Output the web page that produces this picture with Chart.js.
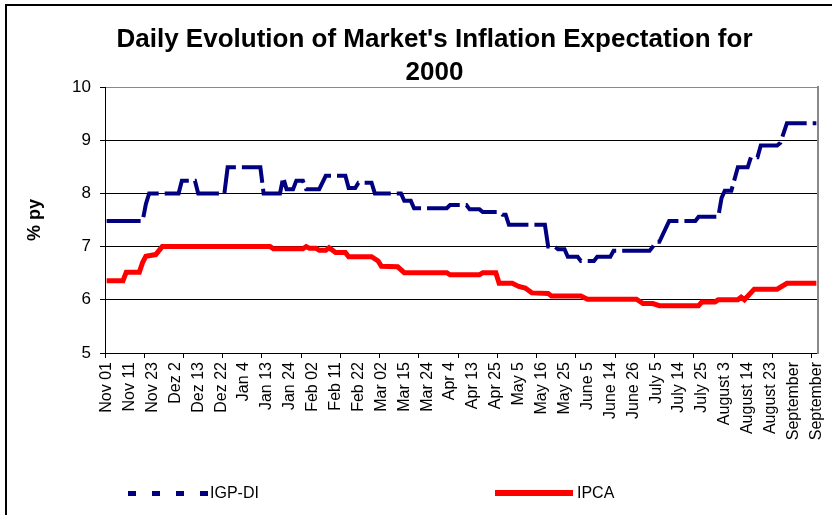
<!DOCTYPE html>
<html>
<head>
<meta charset="utf-8">
<script src="https://cdn.jsdelivr.net/npm/chart.js@4.4.0/dist/chart.umd.min.js"></script>
<style>
body { margin: 0; background: #fff; }
#wrap { position: relative; width: 832px; height: 515px; overflow: hidden; }
#frame { position: absolute; left: 5px; top: 4px; width: 900px; height: 600px; border-left: 2px solid #000; border-top: 2px solid #000; }
.sample { position: absolute; }
.legtxt { position: absolute; font: 16px "Liberation Sans", Arial, sans-serif; color: #000; line-height: 18px; }
</style>
</head>
<body>
<div id="wrap">
  <canvas id="myChart" width="869" height="515"></canvas>
  <div id="frame"></div>
  <div class="sample" style="left:128px; top:491px; width:82px; height:5px; background: repeating-linear-gradient(to right, #000080 0 8px, transparent 8px 24px);"></div>
  <div class="legtxt" style="left:210px; top:484px;">IGP-DI</div>
  <div class="sample" style="left:495px; top:490px; width:78px; height:6px; background:#ff0000;"></div>
  <div class="legtxt" style="left:577px; top:484px;">IPCA</div>
</div>
<script>
var dayLabels = ['Nov 01', 'Nov 11', 'Nov 23', 'Dez 2', 'Dez 13', 'Dez 22', 'Jan 4', 'Jan 13', 'Jan 24',
    'Feb 02', 'Feb 11', 'Feb 22', 'Mar 02', 'Mar 15', 'Mar 24', 'Apr 4', 'Apr 13', 'Apr 25', 'May 5',
    'May 16', 'May 25', 'June 5', 'June 14', 'June 26', 'July 5', 'July 14', 'July 25', 'August 3',
    'August 14', 'August 23', 'September', 'September'];
var labelStep = 7;   // a label every 7 business days
var tickStep = 12;   // tick marks every 12 business days
var lastDay = 217;

// IGP-DI: business day index / expected inflation (% py)
var igpDays = [0, 11, 12, 13, 22, 23, 27, 28, 36, 37, 47, 48, 53, 54, 55, 57, 58, 60, 61, 65,
    67, 73, 74, 76, 77, 81, 82, 90, 91, 93, 94, 104, 105, 110, 111, 114, 115, 120, 121, 122,
    123, 134, 135, 137, 138, 140, 141, 144, 145, 149, 150, 154, 155, 166, 167, 168, 169, 171, 172, 180,
    181, 187, 188, 189, 191, 193, 196, 197, 199, 200, 205, 206, 208, 217];
var igpVals = [7.48, 7.48, 7.8, 8.0, 8.0, 8.24, 8.24, 8.0, 8.0, 8.49, 8.49, 8.0, 8.0, 8.3, 8.08, 8.08, 8.24, 8.24, 8.08, 8.08,
    8.33, 8.33, 8.1, 8.1, 8.2, 8.2, 8.0, 8.0, 7.86, 7.86, 7.72, 7.72, 7.78, 7.78, 7.7, 7.7, 7.65, 7.65, 7.6, 7.6,
    7.41, 7.41, 7.0, 7.0, 6.95, 6.95, 6.81, 6.81, 6.73, 6.73, 6.81, 6.81, 6.92, 6.92, 7.0, 7.09, 7.09, 7.35, 7.48, 7.48,
    7.56, 7.56, 7.91, 8.05, 8.05, 8.49, 8.49, 8.68, 8.68, 8.9, 8.9, 8.95, 9.32, 9.32];

// IPCA
var ipcaDays = [0, 5, 6, 10, 11, 12, 15, 17, 50, 51, 60, 61, 62, 64, 65, 67, 68, 70, 73, 74,
    81, 83, 84, 89, 91, 104, 105, 114, 115, 119, 120, 124, 126, 128, 130, 135, 136, 145, 147, 162,
    164, 167, 169, 181, 182, 186, 187, 193, 194, 195, 198, 205, 208, 217];
var ipcaVals = [6.36, 6.36, 6.52, 6.52, 6.7, 6.82, 6.85, 7.0, 7.0, 6.96, 6.96, 7.0, 6.97, 6.97, 6.93, 6.93, 6.98, 6.89, 6.89, 6.81,
    6.81, 6.73, 6.63, 6.62, 6.51, 6.51, 6.47, 6.47, 6.51, 6.51, 6.31, 6.31, 6.25, 6.22, 6.13, 6.12, 6.07, 6.07, 6.01, 6.01,
    5.93, 5.93, 5.89, 5.89, 5.96, 5.96, 6.0, 6.0, 6.05, 6.0, 6.2, 6.2, 6.31, 6.31];

function toPoints(days, vals) {
    return days.map(function (d, i) { return { x: d, y: vals[i] }; });
}
function isMark(v) {
    return Math.abs(((v + 0.5) % tickStep)) < 1e-6;
}

var fontFam = '"Liberation Sans", Arial, sans-serif';

var ctx = document.getElementById('myChart').getContext('2d');
var myChart = new Chart(ctx, {
    type: 'line',
    data: {
        datasets: [{
            label: 'IGP-DI',
            data: toPoints(igpDays, igpVals),
            borderColor: '#000080',
            borderWidth: 4,
            borderDash: [34, 6],
            pointRadius: 0,
            tension: 0
        }, {
            label: 'IPCA',
            data: toPoints(ipcaDays, ipcaVals),
            borderColor: '#ff0000',
            borderWidth: 5,
            pointRadius: 0,
            tension: 0
        }]
    },
    options: {
        responsive: false,
        animation: false,
        layout: { padding: { left: 0, right: 0, top: 0, bottom: 62 } },
        plugins: {
            legend: { display: false },
            tooltip: { enabled: false },
            title: {
                display: true,
                text: ["Daily Evolution of Market's Inflation Expectation for", '2000'],
                color: '#000',
                font: { family: fontFam, size: 26, weight: 'bold', lineHeight: 1.25 },
                padding: { top: 24, bottom: -2 }
            }
        },
        scales: {
            x: {
                type: 'linear',
                min: -0.5,
                max: lastDay + 0.5,
                afterBuildTicks: function (axis) {
                    var t = [];
                    for (var m = -0.5; m <= lastDay + 0.5; m += tickStep) t.push({ value: m });
                    for (var i = 0; i < dayLabels.length; i++) t.push({ value: i * labelStep });
                    t.sort(function (a, b) { return a.value - b.value; });
                    axis.ticks = t;
                },
                afterFit: function (scale) { scale.height = 100; },
                ticks: {
                    autoSkip: false,
                    minRotation: 90,
                    maxRotation: 90,
                    padding: 4,
                    color: '#000',
                    font: { family: fontFam, size: 16 },
                    callback: function (value) {
                        if (isMark(value)) return '';
                        return dayLabels[Math.round(value / labelStep)];
                    }
                },
                grid: {
                    drawOnChartArea: false,
                    tickLength: 5,
                    color: function (c) { return c.tick && isMark(c.tick.value) ? '#000' : 'rgba(0,0,0,0)'; }
                },
                border: { display: true, color: '#000', width: 1 }
            },
            y: {
                min: 5,
                max: 10,
                afterFit: function (scale) { scale.width = 105; },
                ticks: {
                    stepSize: 1,
                    padding: 9,
                    color: '#000',
                    font: { family: fontFam, size: 17 }
                },
                grid: {
                    tickLength: 5,
                    color: function (c) { return c.tick && c.tick.value === 10 ? '#888' : '#000'; },
                    tickColor: '#000'
                },
                border: { display: true, color: '#000', width: 1 },
                title: {
                    display: true,
                    text: '% py',
                    color: '#000',
                    font: { family: fontFam, size: 18, weight: 'bold' },
                    padding: { top: 24, bottom: 0 },
                    align: 'center'
                }
            },
            y2: {
                position: 'right',
                min: 5,
                max: 10,
                afterFit: function (scale) { scale.width = 51; },
                ticks: { display: false },
                grid: { display: false },
                border: { display: true, color: '#888', width: 2 }
            }
        }
    }
});
</script>
</body>
</html>
